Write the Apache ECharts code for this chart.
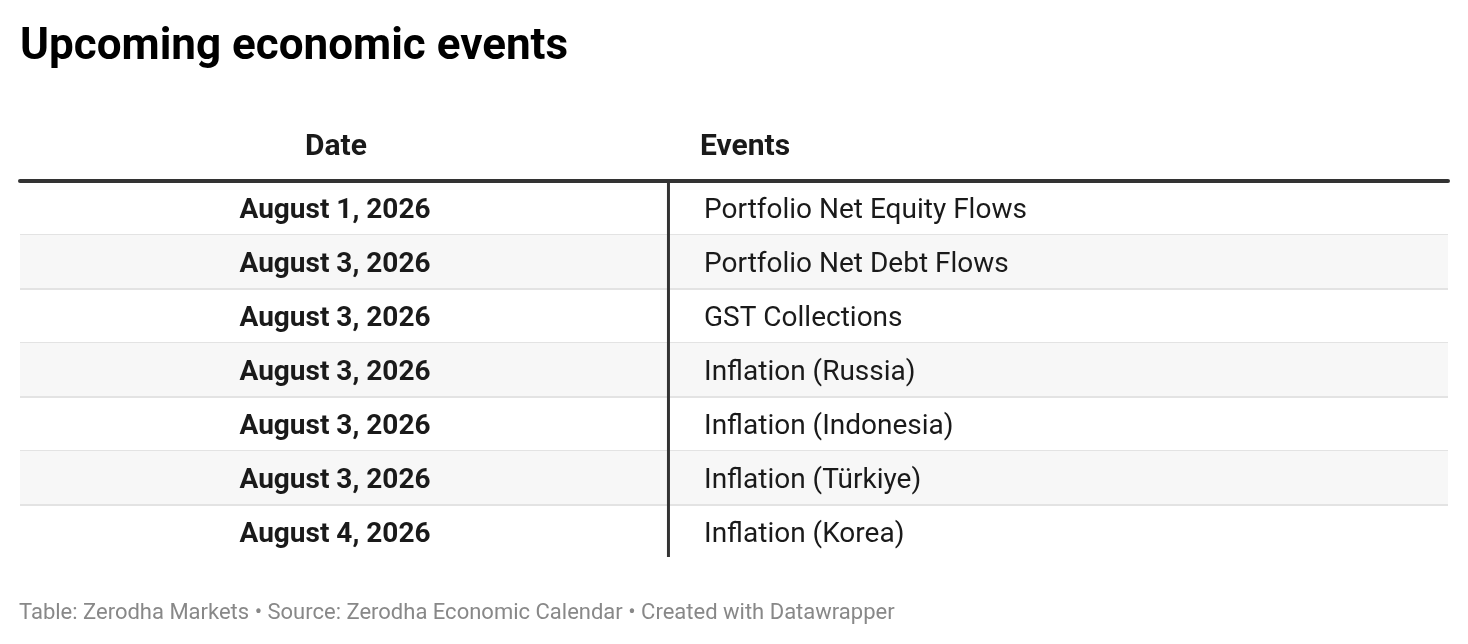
<!DOCTYPE html>
<html>
<head>
<meta charset="utf-8">
<script src="https://cdn.jsdelivr.net/npm/echarts@6/dist/echarts.min.js"></script>
<style>
html,body{margin:0;padding:0;background:#fff;}
#chart{width:1468px;height:644px;}
</style>
</head>
<body>
<div id="chart"></div>
<script>
const titleText = "Upcoming economic events";
const columnHeaders = ["Date", "Events"];
const dates = ["August 1, 2026","August 3, 2026","August 3, 2026","August 3, 2026","August 3, 2026","August 3, 2026","August 4, 2026"];
const events = ["Portfolio Net Equity Flows","Portfolio Net Debt Flows","GST Collections","Inflation (Russia)","Inflation (Indonesia)","Inflation (Türkiye)","Inflation (Korea)"];
const footerText = "Table: Zerodha Markets \u2022 Source: Zerodha Economic Calendar \u2022 Created with Datawrapper";

const FONT = "Roboto, 'Noto Sans', sans-serif";
const DATE_X = 22.06, SEP_X = 45.41, EVENT_X = 47.9;

const chart = echarts.init(document.getElementById('chart'), null, {renderer:'canvas'});
chart.setOption({
  backgroundColor: '#ffffff',
  animation: false,
  title: [
    {text: titleText, left: 15, top: 21, textStyle:{fontFamily:FONT, fontWeight:'bold', fontSize:44, color:'#000'}},
    {text: columnHeaders[0], left: 331, top: 127, textAlign:'center', textStyle:{fontFamily:FONT, fontWeight:'bold', fontSize:30, color:'#1a1a1a'}},
    {text: columnHeaders[1], left: 695, top: 127, textStyle:{fontFamily:FONT, fontWeight:'bold', fontSize:30, color:'#1a1a1a'}},
    {text: footerText, left: 14, top: 597, textStyle:{fontFamily:FONT, fontWeight:'normal', fontSize:22, color:'#888888'}}
  ],
  grid: {left: 20, right: 20, top: 181, bottom: 85},
  xAxis: {
    type:'value', min:0, max:100, position:'top',
    axisLine:{show:true, lineStyle:{color:'#333333', width:4}},
    axisTick:{show:false}, axisLabel:{show:false}, splitLine:{show:false}
  },
  yAxis: {
    type:'category', inverse:true, data: dates.map((d,i)=>String(i)),
    axisLine:{show:false}, axisTick:{show:false}, axisLabel:{show:false}, splitLine:{show:false}
  },
  series: [{
    type:'custom',
    data: dates.map((d,i)=>[i]),
    encode:{y:0},
    renderItem: function(params, api){
      const i = api.value(0);
      const c = api.coord([0, i]);
      const h = api.size([0, 1])[1];
      const x0 = api.coord([0, i])[0];
      const x1 = api.coord([100, i])[0];
      const yTop = c[1] - h/2, yBot = c[1] + h/2;
      const xs = api.coord([SEP_X, i])[0];
      const xd = api.coord([DATE_X, i])[0];
      const xe = api.coord([EVENT_X, i])[0];
      const children = [];
      if (i % 2 === 1) {
        children.push({type:'rect', shape:{x:x0, y:yTop, width:x1-x0, height:h}, style:{fill:'#f7f7f7'}});
      }
      if (i < dates.length - 1) {
        children.push({type:'line', shape:{x1:x0, y1:yBot, x2:x1, y2:yBot}, style:{stroke:'#e3e3e3', lineWidth:2}});
      }
      children.push({type:'line', shape:{x1:xs, y1:yTop, x2:xs, y2:(i===dates.length-1? yBot-2 : yBot)}, style:{stroke:'#333333', lineWidth:3}});
      children.push({type:'text', style:{text:dates[i], x:xd, y:c[1]+3, align:'center', verticalAlign:'middle', font:'bold 28px ' + FONT, fill:'#1a1a1a'}});
      children.push({type:'text', style:{text:events[i], x:xe, y:c[1]+3, align:'left', verticalAlign:'middle', font:'normal 28px ' + FONT, fill:'#1a1a1a'}});
      return {type:'group', children};
    }
  }]
});
</script>
</body>
</html>
